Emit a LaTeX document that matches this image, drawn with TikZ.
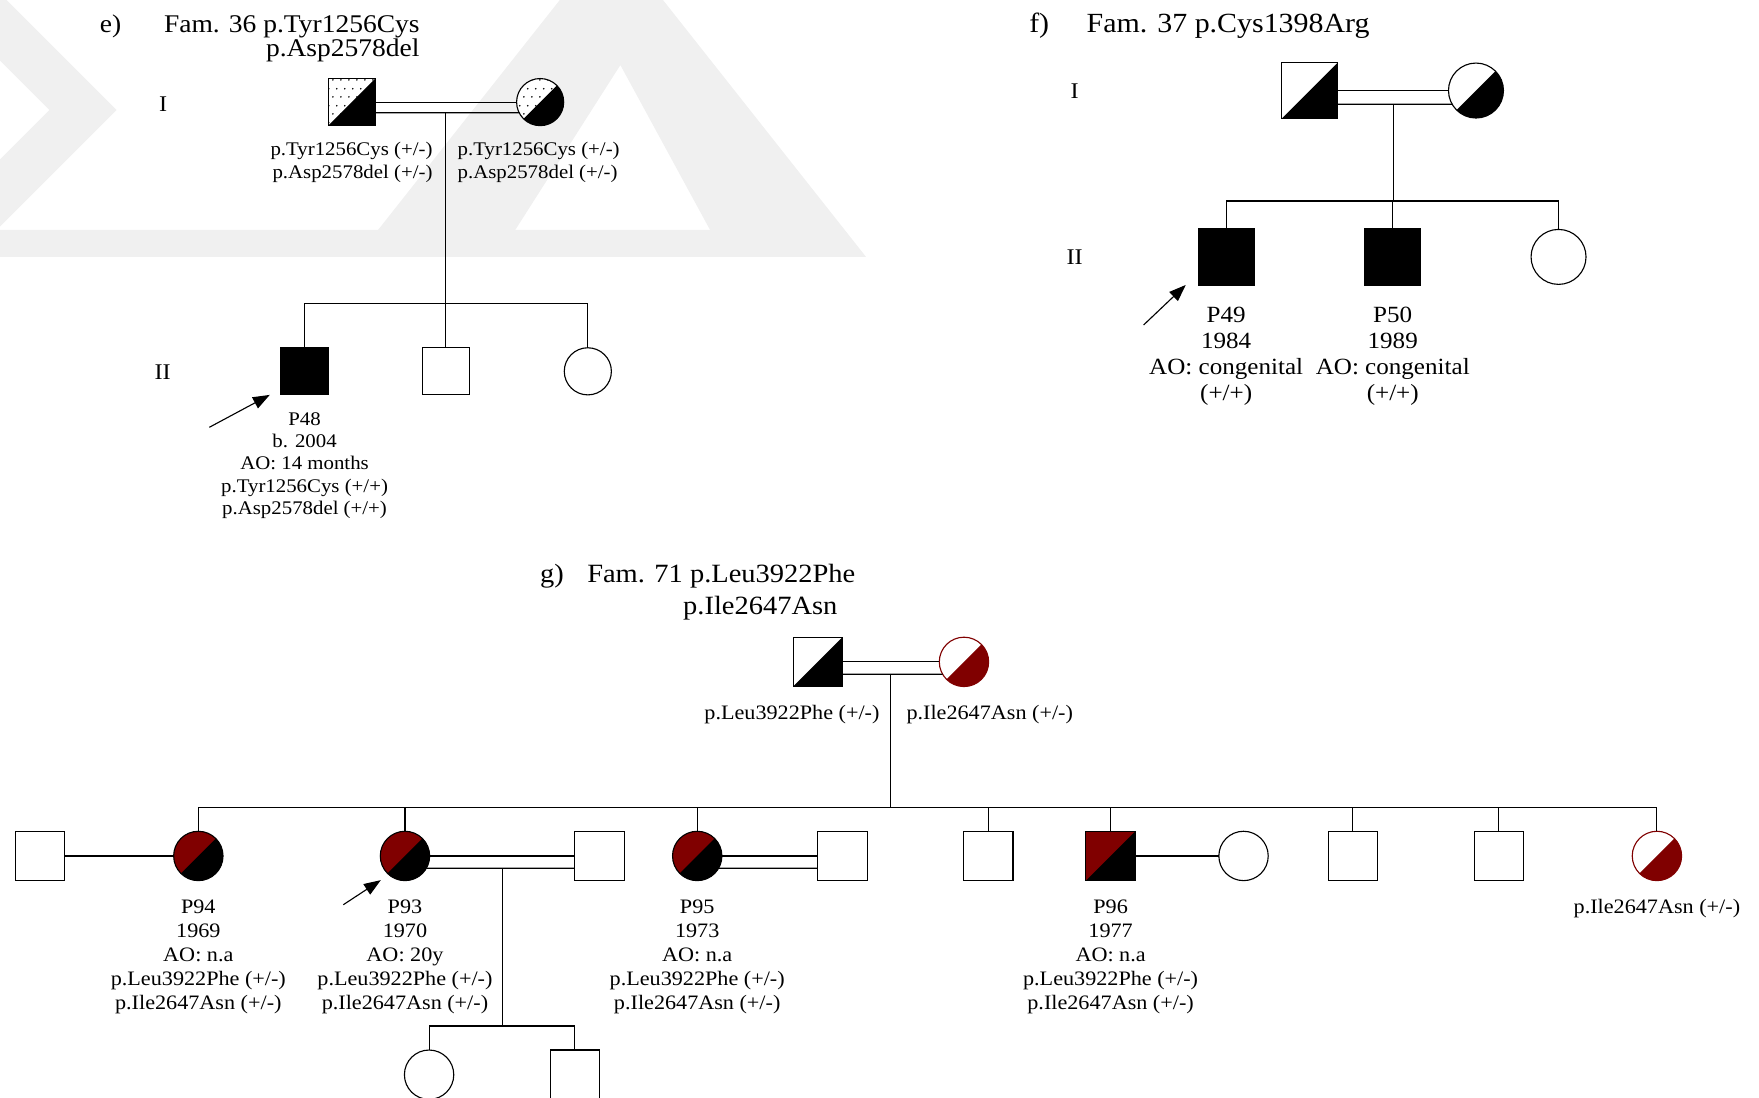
\documentclass[tikz,border=0pt]{standalone}
\usepackage{fontspec}
\setmainfont{Liberation Serif}[FakeStretch=1.08]
\usetikzlibrary{arrows.meta,calc,patterns.meta}

\definecolor{maroon}{HTML}{800000}
\definecolor{wmark}{HTML}{F0F0F0}

\tikzdeclarepattern{
  name=sparsedots,
  type=uncolored,
  bottom left={(0pt,0pt)},
  top right={(7.4pt,14.8pt)},
  tile size={(7.4pt,14.8pt)},
  code={
    \fill (1.85pt,3.7pt) circle (0.8pt);
    \fill (5.55pt,11.1pt) circle (0.8pt);
  }
}

\tikzset{
  ind/.style={draw, line width=1pt, inner sep=0pt, outer sep=0pt, fill=white},
  male/.style={ind, rectangle, minimum size=#1},
  female/.style={ind, circle, minimum size=#1},
  affected/.style={fill=black},
  mut/.style={fill=maroon},
  half/.style={path picture={\fill[#1] (path picture bounding box.south west)
      -- (path picture bounding box.south east)
      -- (path picture bounding box.north east) -- cycle;}},
  half/.default=black,
  dotted half/.style={preaction={fill=white}, pattern=sparsedots, half},
  ttl/.style={font=\fontsize{#1}{21.4}\selectfont, inner sep=0pt},
  gen/.style={font=\fontsize{20}{24}\selectfont, inner sep=0pt, anchor=base},
  lble/.style={font=\fontsize{17.2}{20}\selectfont, inner sep=0pt, align=center},
  lblf/.style={font=\fontsize{20.7}{23.3}\selectfont, inner sep=0pt, align=center},
  lblg/.style={font=\fontsize{18.3}{21.4}\selectfont, inner sep=0pt, align=center},
  proband/.style={-{Triangle[length=15pt,width=11pt]}, line width=1pt}
}

\begin{document}
\begin{tikzpicture}[x=1pt, y=-1pt, line width=1pt]
  \useasboundingbox (0,0) rectangle (1568,978);

  % watermark in the background
  \fill[wmark] (0,205) -- (752,205) -- (770,229) -- (0,229) -- cycle;
  \fill[wmark] (318,229) -- (499,0) -- (591,0) -- (772,229) -- (646,229) -- (553,58) -- (444,229) -- cycle;
  \fill[wmark] (0,0) -- (6,0) -- (104,98) -- (0,202) -- (0,142) -- (44,98) -- (0,54) -- cycle;

  % ---------- e) Fam. 36 ----------
  \node[ttl=22.7, anchor=base west] (tage) at (88.6,29.1) {e)};
  \node[ttl=22.7, anchor=north east, align=right] (ttle) at (374.5,13.7) {Fam. 36 p.Tyr1256Cys\\p.Asp2578del};
  \node[gen] (gIe) at (145.5,99.6) {I};
  \node[gen] (gIIe) at (145,338) {II};

  \node[male=42pt, dotted half] (fe) at (313.5,91) {};
  \node[female=42pt, dotted half] (me) at (481.5,91) {};
  \draw (fe.east) -- (me.west);
  \draw ([yshift=-9.5pt]fe.east) -- (me.207);
  \coordinate (de) at ($(fe.east)!.5!(me.west)+(0,9.5)$);

  \node[lble, anchor=north east, align=right] (lfe) at (386,126.3) {p.Tyr1256Cys (+/-)\\p.Asp2578del (+/-)};
  \node[lble, anchor=north west, align=left] (lme) at (407.5,126.3) {p.Tyr1256Cys (+/-)\\p.Asp2578del (+/-)};

  \node[male=42pt, affected] (p48) at (271.5,331) {};
  \node[male=42pt] (ce2) at (397.5,331) {};
  \node[female=42pt] (ce3) at (524,331) {};
  \coordinate (sibe) at (0,270.5);
  \draw (de) -- (de |- sibe);
  \draw (p48.north) -- (p48.north |- sibe) -- (ce3.north |- sibe) -- (ce3.north);
  \draw (ce2.north) -- (ce2.north |- sibe);

  \node[lble, anchor=north] (lp48) at (271.5,367) {P48\\b. 2004\\AO: 14 months\\p.Tyr1256Cys (+/+)\\p.Asp2578del (+/+)};
  \coordinate (ae) at (186.6,380.9);
  \draw[proband] (ae) -- ([xshift=-10pt]p48.south west);

  % ---------- f) Fam. 37 ----------
  \node[ttl=24.7, anchor=base west] (tagf) at (917,28.8) {f)};
  \node[ttl=24.7, anchor=base west] (ttlf) at (968.2,28.8) {Fam. 37 p.Cys1398Arg};
  \node[gen] (gIf) at (958,87.7) {I};
  \node[gen] (gIIf) at (958,236.2) {II};

  \node[male=50pt, half] (ff) at (1167.6,80.7) {};
  \node[female=49pt, half] (mf) at (1315.7,80.7) {};
  \draw (ff.east) -- (mf.west);
  \draw ([yshift=-12.2pt]ff.east) -- (mf.210);
  \coordinate (df) at ($(ff.east)!.5!(mf.west)+(0,12.2)$);

  \node[male=50pt, affected] (p49) at (1093,229) {};
  \node[male=50pt, affected] (p50) at (1241.5,229) {};
  \node[female=49pt] (cf3) at (1389.3,229) {};
  \coordinate (sibf) at (0,179.2);
  \draw (df) -- (df |- sibf);
  \draw (p49.north) -- (p49.north |- sibf) -- (cf3.north |- sibf) -- (cf3.north);
  \draw (p50.north) -- (p50.north |- sibf);

  \node[lblf, anchor=north] (lp49) at (1093,273) {P49\\1984\\AO: congenital\\(+/+)};
  \node[lblf, anchor=north] (lp50) at (1241.5,273) {P50\\1989\\AO: congenital\\(+/+)};
  \coordinate (af) at (1019.4,289.7);
  \draw[proband] (af) -- ([xshift=-11pt]p49.south west);

  % ---------- g) Fam. 71 ----------
  \node[ttl=23.5, anchor=base west] (tagg) at (481,519) {g)};
  \node[ttl=23.5, anchor=base west] (ttlg) at (523,519) {Fam. 71 p.Leu3922Phe};
  \node[ttl=23.5, anchor=base west] (ttlg2) at (608.5,547.5) {p.Ile2647Asn};

  \node[male=44pt, half] (fg) at (729,590) {};
  \node[female=44pt, half=maroon, draw=maroon] (mg) at (859.3,590) {};
  \draw (fg.east) -- (mg.west);
  \draw ([yshift=-11pt]fg.east) -- (mg.210);
  \coordinate (dg) at ($(fg.east)!.5!(mg.west)+(0,11)$);
  \node[lblg, anchor=base east] (lfg) at (784.5,641.3) {p.Leu3922Phe (+/-)};
  \node[lblg, anchor=base west] (lmg) at (807.6,641.3) {p.Ile2647Asn (+/-)};

  % children of generation II
  \node[male=44pt] (sp1) at (35.6,763) {};
  \node[female=44pt, mut, half] (p94) at (176.8,763) {};
  \node[female=44pt, mut, half] (p93) at (361,763) {};
  \node[male=44pt] (sp2) at (534.5,763) {};
  \node[female=44pt, mut, half] (p95) at (621.5,763) {};
  \node[male=44pt] (sp3) at (751,763) {};
  \node[male=44pt] (cg5) at (881,763) {};
  \node[male=44pt, mut, half] (p96) at (990,763) {};
  \node[female=44pt] (sp4) at (1108.5,763) {};
  \node[male=44pt] (cg7) at (1206,763) {};
  \node[male=44pt] (cg8) at (1336,763) {};
  \node[female=44pt, half=maroon, draw=maroon] (cg9) at (1477,763) {};

  \coordinate (sibg) at (0,719.7);
  \draw (dg) -- (dg |- sibg);
  \draw (p94.north) -- (p94.north |- sibg) -- (cg9.north |- sibg) -- (cg9.north);
  \foreach \n in {p93,p95,cg5,p96,cg7,cg8}
    \draw (\n.north) -- (\n.north |- sibg);

  % marriages
  \draw (sp1.east) -- (p94.west);
  \draw (p93.east) -- (sp2.west);
  \draw (p93.330) -- ([yshift=-11pt]sp2.west);
  \draw (p95.east) -- (sp3.west);
  \draw (p95.330) -- ([yshift=-11pt]sp3.west);
  \draw (p96.east) -- (sp4.west);

  % generation III
  \coordinate (d93) at ($(p93.east)!.5!(sp2.west)+(0,11)$);
  \node[female=44pt] (gc1) at (382.5,958) {};
  \node[male=44pt] (gc2) at (512.5,958) {};
  \coordinate (sib93) at (0,914.6);
  \draw (d93) -- (d93 |- sib93);
  \draw (gc1.north) -- (gc1.north |- sib93) -- (gc2.north |- sib93) -- (gc2.north);

  % labels
  \node[lblg, anchor=north] (lp94) at (176.8,801.5) {P94\\1969\\AO: n.a\\p.Leu3922Phe (+/-)\\p.Ile2647Asn (+/-)};
  \node[lblg, anchor=north] (lp93) at (361,801.5) {P93\\1970\\AO: 20y\\p.Leu3922Phe (+/-)\\p.Ile2647Asn (+/-)};
  \node[lblg, anchor=north] (lp95) at (621.5,801.5) {P95\\1973\\AO: n.a\\p.Leu3922Phe (+/-)\\p.Ile2647Asn (+/-)};
  \node[lblg, anchor=north] (lp96) at (990,801.5) {P96\\1977\\AO: n.a\\p.Leu3922Phe (+/-)\\p.Ile2647Asn (+/-)};
  \node[lblg, anchor=base] (lcg9) at (1477,814.2) {p.Ile2647Asn (+/-)};

  \coordinate (ag) at (306,806.5);
  \draw[proband] (ag) -- ([shift={(-6pt,-6pt)}]p93.225);
\end{tikzpicture}
\end{document}
